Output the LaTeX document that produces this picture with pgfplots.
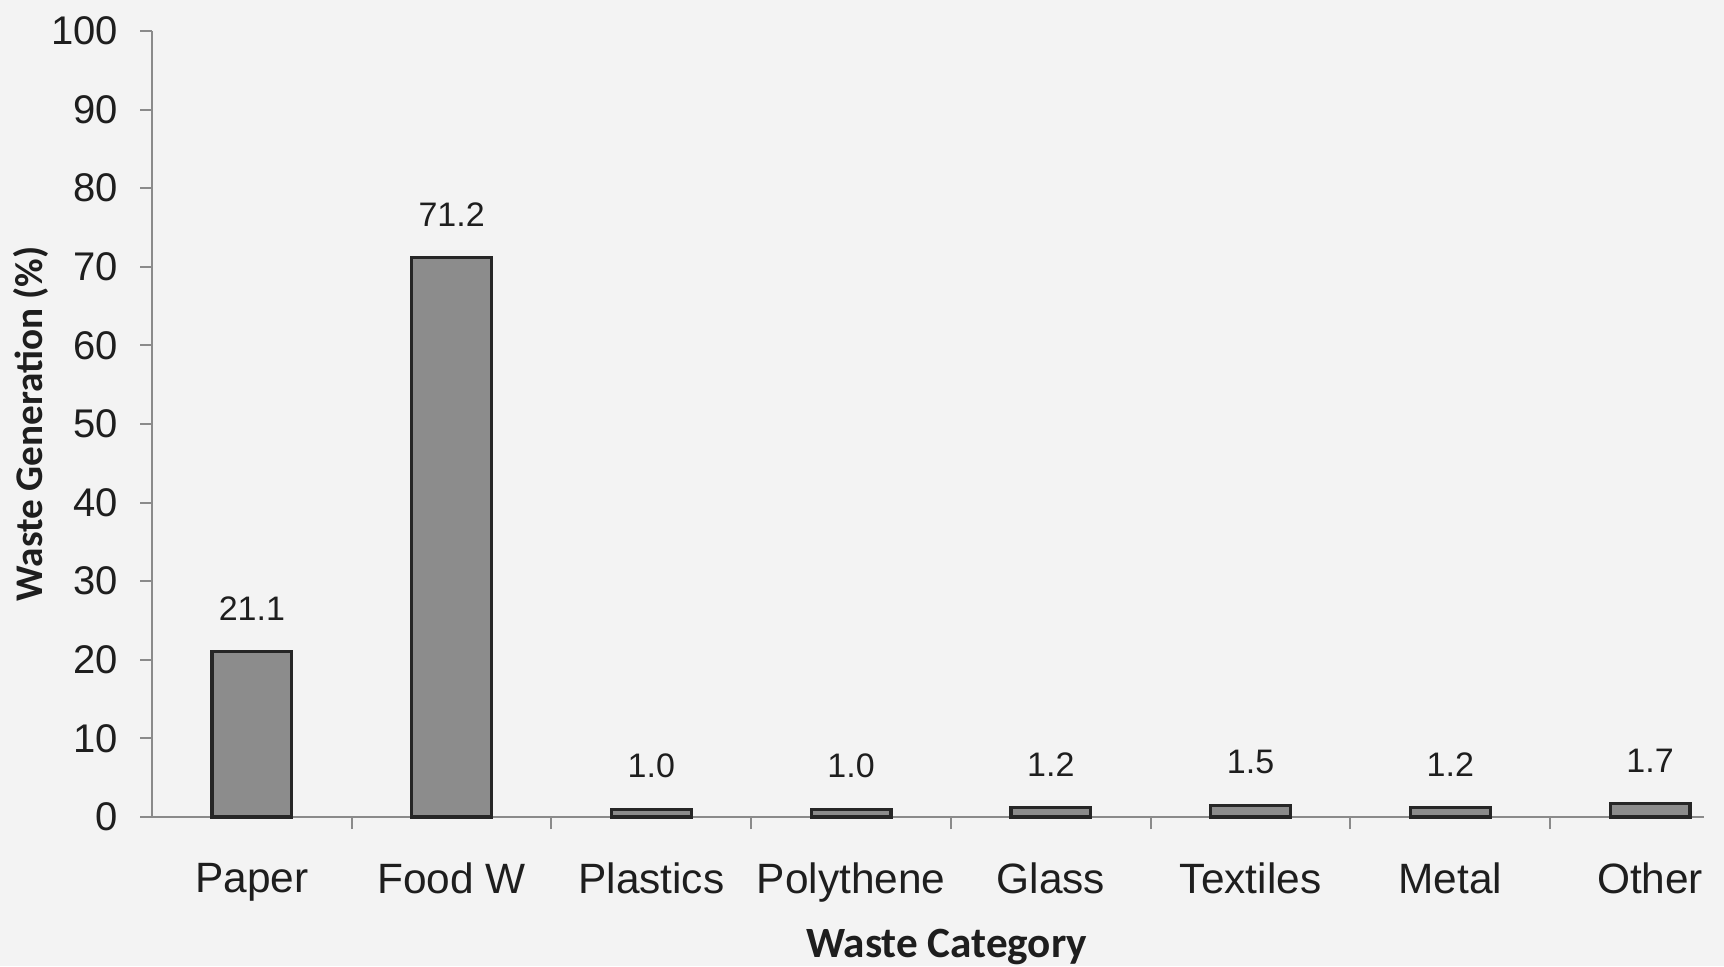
\documentclass[border=0pt]{standalone}
\usepackage{pgfplots}
\pgfplotsset{compat=1.18}
\usepackage{fontspec}
\setmainfont{Liberation Sans}
\newfontfamily\calibri{Carlito}
\definecolor{paper}{HTML}{F3F3F3}
\definecolor{ink}{HTML}{1E1E1E}
\definecolor{axisgray}{HTML}{8A8A8A}
\definecolor{barfill}{HTML}{8C8C8C}
\begin{document}
\begin{tikzpicture}
\fill[paper] (-38pt,-37.25pt) rectangle (393pt,204.25pt);
\begin{axis}[
    at={(0,0)}, anchor=south west,
    scale only axis,
    width=388pt, height=196.5pt,
    ybar, bar width=0.40,
    xmin=-0.5, xmax=7.27,
    ymin=0, ymax=100,
    axis x line*=bottom, axis y line*=left,
    axis line style={axisgray, line width=0.5pt},
    tick style={axisgray, line width=0.5pt},
    tick align=outside,
    major tick length=3pt,
    xtick={0,...,7},
    xticklabels={Paper, Food W, Plastics, Polythene, Glass, Textiles, Metal, Other},
    x tick style={draw=none},
    minor xtick={0.5,1.5,...,6.5},
    minor x tick style={draw=axisgray},
    minor tick length=3pt,
    ytick={0,10,...,100},
    xticklabel style={font=\fontsize{10.6}{12}\selectfont, text=ink, yshift=-5pt},
    yticklabel style={font=\fontsize{10}{12}\selectfont, text=ink, xshift=-2pt},
    /pgf/number format/assume math mode=true,
    xlabel={Waste Category},
    ylabel={Waste Generation (\%)},
    xlabel style={font=\calibri\bfseries\fontsize{10.8}{12}\selectfont, text=ink,
        at={(axis description cs:0.512,-0.166)}, anchor=center},
    ylabel style={font=\calibri\bfseries\fontsize{9.8}{12}\selectfont, text=ink,
        at={(axis description cs:-0.078,0.5)}, anchor=center},
    nodes near coords,
    nodes near coords style={font=\fontsize{8.5}{10}\selectfont, text=ink, yshift=4pt},
    point meta=explicit symbolic,
    clip=false,
]
\addplot[fill=barfill, draw=black!85, line width=0.8pt] coordinates {
(0,21.1) [21.1] (1,71.2) [71.2] (2,1.0) [1.0] (3,1.0) [1.0]
(4,1.2) [1.2] (5,1.5) [1.5] (6,1.2) [1.2] (7,1.7) [1.7]
};
\end{axis}
\pgfresetboundingbox
\path[use as bounding box] (-38pt,-37.25pt) rectangle (393pt,204.25pt);
\end{tikzpicture}
\end{document}
